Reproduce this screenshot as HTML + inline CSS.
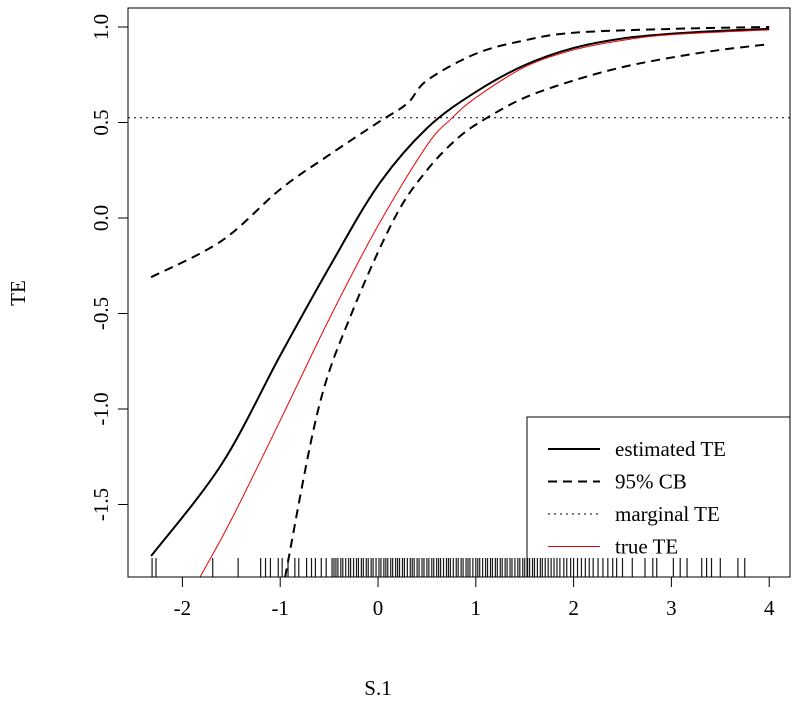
<!DOCTYPE html>
<html><head><meta charset="utf-8"><style>
body{margin:0;background:#fff}
text{font-family:"Liberation Serif",serif;fill:#000}
</style></head><body>
<svg id="chart" width="800" height="706" xmlns="http://www.w3.org/2000/svg">
<g id="g"></g>
</svg>
<script>
const xTicks=[-2,-1,0,1,2,3,4];
const yTicks=[-1.5,-1.0,-0.5,0.0,0.5,1.0];
const yTickLabels=["-1.5","-1.0","-0.5","0.0","0.5","1.0"];
const estX=[-2.32,-1.6,-1,-0.5,0,0.5,1,1.5,2,2.5,3,3.5,4];
const estY=[-1.77,-1.29,-0.72,-0.26,0.17,0.47,0.66,0.8,0.89,0.94,0.965,0.98,0.99];
const upX=[-2.32,-1.6,-1,-0.5,0,0.3,0.5,1,1.5,2,3,4];
const upY=[-0.31,-0.12,0.15,0.33,0.5,0.6,0.72,0.86,0.93,0.97,0.99,1.0];
const loX=[-0.95,-0.61,-0.27,0.17,0.5,0.82,1.1,1.5,2,2.5,3,3.5,4];
const loY=[-1.88,-1.0,-0.5,0,0.25,0.42,0.52,0.63,0.72,0.79,0.84,0.88,0.91];
const trueX=[-1.82,-1.5,-1,-0.5,0,0.5,0.75,1,1.5,2,2.5,3,4];
const trueY=[-1.88,-1.58,-1.06,-0.53,-0.04,0.38,0.52,0.63,0.79,0.88,0.93,0.96,0.985];
const marginal=0.525;
const rug=[-2.31,-2.27,-1.69,-1.43,-1.2,-1.15,-1.1,-1.02,-0.98,-0.92,-0.85,-0.81,-0.73,-0.68,-0.64,-0.58,-0.53,
-0.47,-0.45,-0.43,-0.41,-0.38,-0.36,-0.33,-0.3,-0.28,-0.25,-0.22,-0.2,-0.17,-0.15,-0.12,-0.1,-0.07,-0.05,-0.02,0.01,0.03,0.06,0.08,0.1,0.13,0.15,0.18,0.2,0.22,0.25,0.27,0.3,0.33,0.35,0.37,0.4,0.42,0.45,0.47,0.5,0.52,0.55,0.57,0.6,0.62,0.64,0.67,0.7,0.72,0.74,0.77,0.8,0.82,0.85,0.87,0.9,0.92,0.94,0.97,1.0,1.02,1.04,1.07,1.1,1.12,1.15,1.17,1.2,1.22,1.25,1.27,1.3,1.32,1.35,1.37,1.4,1.43,1.45,1.48,1.5,1.53,1.55,1.58,1.6,1.63,1.66,1.68,1.71,1.74,1.77,1.8,1.83,1.86,1.9,1.93,1.97,2.0,2.04,2.08,2.12,2.16,2.2,2.25,2.3,2.35,2.4,2.44,
2.5,2.6,2.73,2.81,2.85,3.02,3.09,3.16,3.31,3.36,3.41,3.5,3.68,3.75];
const L=128,R=790,T=8,B=577;
const sx=v=>378+v*97.8, sy=v=>218-v*191;
const NS="http://www.w3.org/2000/svg", g=document.getElementById('g');
function mk(t,a,p){const e=document.createElementNS(NS,t);for(const k in a)e.setAttribute(k,a[k]);(p||g).appendChild(e);return e;}
function path(xs,ys){const p=xs.map((x,i)=>[sx(x),sy(ys[i])]);let d="M"+p[0];for(let i=0;i<p.length-1;i++){const p0=p[i-1]||p[i],p1=p[i],p2=p[i+1],p3=p[i+2]||p2;
d+=" C"+(p1[0]+(p2[0]-p0[0])/6)+","+(p1[1]+(p2[1]-p0[1])/6)+" "+(p2[0]-(p3[0]-p1[0])/6)+","+(p2[1]-(p3[1]-p1[1])/6)+" "+p2;}return d;}
const clip=mk('clipPath',{id:'c'});mk('rect',{x:L,y:T,width:R-L,height:B-T},clip);
const pg=mk('g',{'clip-path':'url(#c)'});
let e=mk('line',{x1:L,x2:R,y1:sy(marginal),y2:sy(marginal),stroke:'#000','stroke-width':1,'stroke-dasharray':'2,4'},pg);

e=mk('path',{d:path(upX,upY),fill:'none',stroke:'#000','stroke-width':2,'stroke-dasharray':'9,6'},pg);
e=mk('path',{d:path(loX,loY),fill:'none',stroke:'#000','stroke-width':2,'stroke-dasharray':'9,6'},pg);
e=mk('path',{d:path(estX,estY),fill:'none',stroke:'#000','stroke-width':2},pg);
e=mk('path',{d:path(trueX,trueY),fill:'none',stroke:'#e00','stroke-width':1},pg);
const lg=mk('g',{});
mk('rect',{x:527,y:417,width:263,height:160,fill:'#fff',stroke:'#000'},lg);
const items=[['estimated TE','#000',2,''],['95% CB','#000',2,'9,6'],['marginal TE','#000',1,'2,4'],['true TE','#e00',1,'']];
items.forEach((it,i)=>{const y=449+i*32.5;const a={x1:548,x2:600,y1:y,y2:y,stroke:it[1],'stroke-width':it[2]};if(it[3])a['stroke-dasharray']=it[3];mk('line',a,lg);
const t=mk('text',{x:615,y:y+7,'font-size':21},lg);t.textContent=it[0];});
rug.forEach(v=>{const e=mk('line',{x1:sx(v),x2:sx(v),y1:B,y2:B-19,stroke:'#000','stroke-width':1.2,opacity:0.9});});
e=mk('rect',{x:L,y:T,width:R-L,height:B-T,fill:'none',stroke:'#000'});
mk('line',{x1:sx(-2),x2:sx(4),y1:B,y2:B,stroke:'#000'});
xTicks.forEach(v=>{mk('line',{x1:sx(v),x2:sx(v),y1:B,y2:B+10,stroke:'#000'});
const t=mk('text',{x:sx(v),y:B+62-24,'text-anchor':'middle','font-size':21});t.textContent=v<0?'-'+(-v):v;});
yTicks.forEach((v,i)=>{mk('line',{x1:L,x2:L-10,y1:sy(v),y2:sy(v),stroke:'#000'});
const t=mk('text',{x:0,y:0,'text-anchor':'middle','font-size':21,transform:`translate(${L-20},${sy(v)}) rotate(-90)`});t.textContent=yTickLabels[i];});
e=mk('text',{x:378,y:695,'text-anchor':'middle','font-size':21});e.textContent='S.1';
e=mk('text',{x:0,y:0,'text-anchor':'middle','font-size':21,transform:'translate(25,293) rotate(-90)'});e.textContent='TE';
</script>
</body></html>
